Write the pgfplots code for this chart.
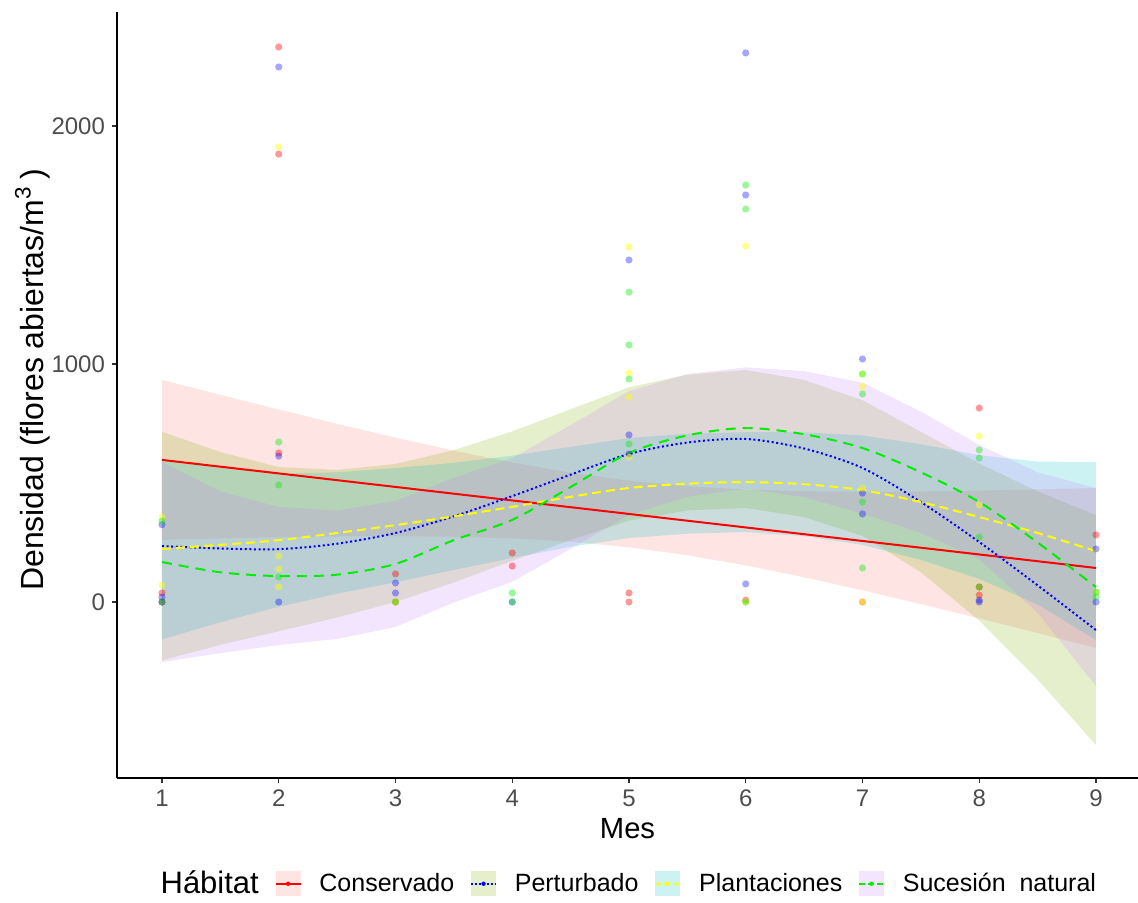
\documentclass[border=0pt]{standalone}
\usepackage{pgfplots}
\pgfplotsset{compat=1.18}
\usepackage{pgfplotstable}
\usepackage{fontspec}
\setmainfont{Liberation Sans}
\definecolor{tickgray}{HTML}{4D4D4D}
\definecolor{fcons}{HTML}{F8766D}
\definecolor{fpert}{HTML}{7CAE00}
\definecolor{fplan}{HTML}{00BFC4}
\definecolor{fsuc}{HTML}{C77CFF}
\definecolor{lred}{HTML}{FF0000}
\definecolor{lblue}{HTML}{0000FF}
\definecolor{lyellow}{HTML}{FFFF00}
\definecolor{lgreen}{HTML}{00EE00}

% fitted curves
\pgfplotstableread{
x cons pert plan suc
1 597 235 223 168
1.5 568.6 225 240 125
2 540.3 222 260 109
2.5 511.9 245 290 115
3 483.5 290 323 160
3.5 455.1 360 360 260
4 426.8 445 400 345
4.5 398.4 535 442 483
5 370 622 479 626
5.5 341.6 670 497 700
6 313.3 685 504 731
6.5 284.9 645 495 705
7 256.5 563 470 647
7.5 228.1 420 420 545
8 199.8 252 357 420
8.5 171.4 70 290 250
9 143 -118 214 63
}\tfit
% confidence bands: upper edge left to right, then lower edge right to left
\pgfplotstableread{
x y
1 933
1.5 870.3
2 808.8
2.5 748.6
3 690.7
3.5 636.0
4 586.3
4.5 543.5
5 510
5.5 486.7
6 472.8
6.5 465.8
7 463.7
7.5 464.8
8 468.3
8.5 473.1
9 479
9 -193
8.5 -130.3
8 -68.7
7.5 -8.6
7 49.3
6.5 104.0
6 153.8
5.5 196.5
5 230
4.5 253.3
4 267.3
3.5 274.2
3 276.3
2.5 275.2
2 271.8
1.5 266.9
1 261
}\bcons
\pgfplotstableread{
x y
1 715
1.5 630
2 567
2.5 555
3 580
3.5 638
4 717
4.5 810
5 902
5.5 955
6 975
6.5 933
7 848
7.5 715
8 582
8.5 465
9 365
9 -601
8.5 -325
8 -78
7.5 125
7 278
6.5 357
6 395
5.5 385
5 342
4.5 260
4 173
3.5 82
3 0
2.5 -65
2 -123
1.5 -180
1 -245
}\bpert
\pgfplotstableread{
x y
1 603
1.5 565
2 540
2.5 545
3 563
3.5 585
4 615
4.5 652
5 689
5.5 707
6 714
6.5 713
7 700
7.5 663
8 617
8.5 590
9 588
9 -160
8.5 -10
8 97
7.5 177
7 240
6.5 277
6 294
5.5 287
5 269
4.5 232
4 185
3.5 135
3 83
2.5 35
2 -20
1.5 -85
1 -157
}\bplan
\pgfplotstableread{
x y
1 588
1.5 465
2 399
2.5 385
3 425
3.5 522
4 605
4.5 743
5 886
5.5 958
6 986
6.5 970
7 922
7.5 800
8 660
8.5 545
9 479
9 -353
8.5 -45
8 180
7.5 290
7 372
6.5 440
6 476
5.5 442
5 366
4.5 223
4 85
3.5 -2
3 -105
2.5 -155
2 -181
1.5 -215
1 -252
}\bsuc

\begin{document}
\begin{tikzpicture}
\path[use as bounding box] (-58.5pt,-62pt) rectangle (510.5pt,389pt);
\begin{axis}[
  at={(0,0)}, anchor=south west,
  scale only axis, width=510.5pt, height=383pt,
  xmin=0.6146, xmax=9.36, ymin=-739.5, ymax=2479,
  axis x line*=bottom, axis y line*=left,
  axis line style={-, line width=0.6pt, black},
  xtick={1,2,3,4,5,6,7,8,9}, ytick={0,1000,2000},
  tick align=outside, major tick length=2.5pt,
  tick style={line width=0.6pt, color=black!80},
  /pgf/number format/assume math mode=true,
  /pgf/number format/1000 sep={},
  tick label style={font=\fontsize{12}{14}\selectfont, color=tickgray},
  xlabel={Mes}, ylabel={Densidad (flores abiertas/m\textsuperscript{3}\hspace{3.5pt})},
  xlabel style={font=\fontsize{14.6}{17}\selectfont, at={(axis description cs:0.5,-0.066)}, anchor=center},
  ylabel style={font=\fontsize{16}{19}\selectfont, at={(axis description cs:-0.083,0.52)}, anchor=center},
  legend style={at={(0.0245,-0.138)}, anchor=west, draw=none, fill=none, inner sep=0pt,
    font=\fontsize{12.5}{15}\selectfont, legend columns=-1,
    /tikz/every odd column/.append style={column sep=8pt},
    /tikz/every even column/.append style={column sep=7pt},
    nodes={inner sep=1pt}},
  legend cell align=left,
]
% points
\addplot[only marks, mark=*, mark size=1.8pt, color=lred, draw opacity=0, fill opacity=0.4, forget plot] coordinates {
(1,38)(1,0)(2,2332)(2,1882)(2,626)(3,118)(3,0)(4,206)(4,151)(5,38)(5,0)(6,8)(7,0)(8,815)(8,63)(8,29)(9,282)};
\addplot[only marks, mark=*, mark size=1.8pt, color=lblue, draw opacity=0, fill opacity=0.35, forget plot] coordinates {
(1,325)(1,21)(1,0)(2,2248)(2,613)(2,0)(3,80)(3,38)(4,0)(5,1437)(5,702)(5,622)(6,2307)(6,1710)(6,76)(7,1021)(7,458)(7,370)(8,8)(8,0)(9,223)(9,0)};
\addplot[only marks, mark=*, mark size=1.8pt, color=lyellow, draw opacity=0, fill opacity=0.45, forget plot] coordinates {
(1,357)(1,71)(2,1912)(2,193)(2,139)(2,63)(3,0)(5,1492)(5,962)(5,861)(5,609)(6,1496)(6,0)(7,958)(7,905)(7,479)(7,0)(8,697)(8,408)(9,42)};
\addplot[only marks, mark=*, mark size=1.8pt, color=lgreen, draw opacity=0, fill opacity=0.4, forget plot] coordinates {
(1,340)(1,0)(2,672)(2,492)(2,105)(3,0)(4,38)(4,0)(5,1302)(5,1080)(5,937)(5,664)(6,1752)(6,1651)(6,0)(7,958)(7,874)(7,420)(7,143)(8,639)(8,605)(8,273)(8,63)(9,42)(9,21)};
% ribbons
\addplot[fill=fcons, fill opacity=0.2, draw=none, forget plot] table[x=x,y=y] {\bcons} -- cycle;
\addplot[fill=fpert, fill opacity=0.2, draw=none, forget plot] table[x=x,y=y] {\bpert} -- cycle;
\addplot[fill=fplan, fill opacity=0.2, draw=none, forget plot] table[x=x,y=y] {\bplan} -- cycle;
\addplot[fill=fsuc, fill opacity=0.2, draw=none, forget plot] table[x=x,y=y] {\bsuc} -- cycle;
% fits
\addplot[lred, line width=1pt, smooth, forget plot] table[x=x,y=cons] {\tfit};
\addplot[lblue, line width=1pt, smooth, dash pattern=on 1pt off 1.3pt, forget plot] table[x=x,y=pert] {\tfit};
\addplot[lyellow, line width=1pt, smooth, dash pattern=on 4.5pt off 2.5pt, forget plot] table[x=x,y=plan] {\tfit};
\addplot[lgreen, line width=1pt, smooth, dash pattern=on 5pt off 3.5pt, forget plot] table[x=x,y=suc] {\tfit};
% legend
\addlegendimage{legend image code/.code={\path[draw=none,fill=none] (0pt,0pt) rectangle (0.1pt,0.1pt);}}
\addlegendentry{\fontsize{15.5}{18}\selectfont Hábitat}
\addlegendimage{legend image code/.code={
  \path[draw=none, fill=fcons, fill opacity=0.2] (0pt,-6.25pt) rectangle (12.5pt,6.25pt);
  \path[draw=lred, line width=0.8pt, fill=none] (0pt,0pt) -- (12.5pt,0pt);
  \path[draw=none, fill=lred] (6.25pt,0pt) circle (1.1pt);}}
\addlegendentry{Conservado}
\addlegendimage{legend image code/.code={
  \path[draw=none, fill=fpert, fill opacity=0.2] (0pt,-6.25pt) rectangle (12.5pt,6.25pt);
  \path[draw=lblue, line width=0.8pt, dash pattern=on 0.8pt off 1.2pt, fill=none] (0pt,0pt) -- (12.5pt,0pt);
  \path[draw=none, fill=lblue] (6.25pt,0pt) circle (1.1pt);}}
\addlegendentry{Perturbado}
\addlegendimage{legend image code/.code={
  \path[draw=none, fill=fplan, fill opacity=0.2] (0pt,-6.25pt) rectangle (12.5pt,6.25pt);
  \path[draw=lyellow, line width=0.8pt, dash pattern=on 3pt off 1.5pt, fill=none] (0pt,0pt) -- (12.5pt,0pt);
  \path[draw=none, fill=lyellow] (6.25pt,0pt) circle (1.1pt);}}
\addlegendentry{Plantaciones}
\addlegendimage{legend image code/.code={
  \path[draw=none, fill=fsuc, fill opacity=0.2] (0pt,-6.25pt) rectangle (12.5pt,6.25pt);
  \path[draw=lgreen, line width=0.8pt, dash pattern=on 3pt off 1.5pt, fill=none] (0pt,0pt) -- (12.5pt,0pt);
  \path[draw=none, fill=lgreen] (6.25pt,0pt) circle (1.1pt);}}
\addlegendentry{Sucesión\ \ natural}
\end{axis}
\end{tikzpicture}
\end{document}
